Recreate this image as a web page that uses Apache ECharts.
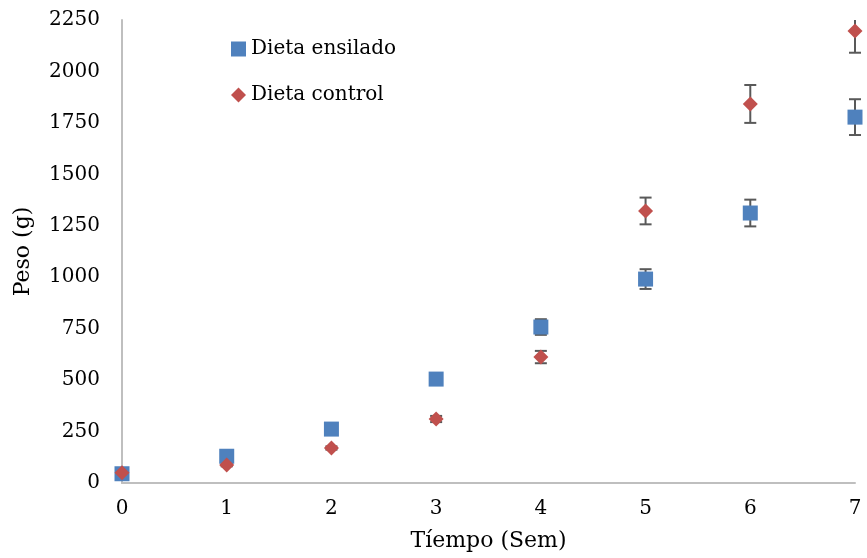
<!DOCTYPE html>
<html>
<head>
<meta charset="utf-8">
<script src="https://cdn.jsdelivr.net/npm/echarts@6/dist/echarts.min.js"></script>
<style>
  html, body { margin: 0; padding: 0; background: #fff; }
  #main { width: 867px; height: 558px; }
</style>
</head>
<body>
<div id="main"></div>
<script>
// semanas
var semanas = [0, 1, 2, 3, 4, 5, 6, 7];
// Dieta ensilado (g) y su error
var ensilado = [45, 130, 262, 505, 758, 991, 1312, 1778];
var ensiladoErr = [5, 8, 10, 10, 38, 48, 65, 87];
// Dieta control (g) y su error
var control = [50, 87, 170, 311, 612, 1322, 1842, 2196];
var controlErr = [4, 6, 8, 15, 30, 65, 92, 105];
var yTicks = [0, 250, 500, 750, 1000, 1250, 1500, 1750, 2000, 2250];
var yMax = 2250;

var serif = 'DejaVu Serif';

function puntos(vals) {
  return semanas.map(function (s, i) { return [s, vals[i]]; });
}
function barras(vals, errs) {
  return semanas.map(function (s, i) { return [s, vals[i] - errs[i], vals[i] + errs[i]]; });
}

// barra de error con tapas (se corta en el borde superior del área)
function renderError(params, api) {
  var x = api.value(0);
  var top = api.value(2);
  var cortada = top > yMax;
  var lo = api.coord([x, api.value(1)]);
  var hi = api.coord([x, cortada ? yMax : top]);
  var w = 6;
  var st = { stroke: '#595959', lineWidth: 2 };
  var hijos = [
    { type: 'line', shape: { x1: lo[0], y1: lo[1], x2: hi[0], y2: hi[1] }, style: st },
    { type: 'line', shape: { x1: lo[0] - w, y1: lo[1], x2: lo[0] + w, y2: lo[1] }, style: st }
  ];
  if (!cortada) {
    hijos.push({ type: 'line', shape: { x1: hi[0] - w, y1: hi[1], x2: hi[0] + w, y2: hi[1] }, style: st });
  }
  return { type: 'group', children: hijos };
}

var myChart = echarts.init(document.getElementById('main'));
myChart.setOption({
  animation: false,
  grid: { left: 122, right: 12, top: 20, bottom: 75 },
  legend: {
    orient: 'vertical',
    left: 226,
    top: 34,
    itemGap: 26,
    itemWidth: 15,
    itemHeight: 15,
    data: ['Dieta ensilado', 'Dieta control'],
    textStyle: { fontFamily: serif, fontSize: 20, color: '#000' }
  },
  xAxis: {
    type: 'value',
    min: 0,
    max: 7,
    interval: 1,
    name: 'Tíempo (Sem)',
    nameLocation: 'middle',
    nameGap: 47,
    nameTextStyle: { fontFamily: serif, fontSize: 22, color: '#000' },
    axisLine: { show: true, lineStyle: { color: '#BFBFBF', width: 2 } },
    axisTick: { show: false },
    splitLine: { show: false },
    axisLabel: { fontFamily: serif, fontSize: 20, color: '#000', margin: 16 }
  },
  yAxis: {
    type: 'value',
    min: 0,
    max: yMax,
    interval: 250,
    name: 'Peso (g)',
    nameLocation: 'middle',
    nameGap: 88,
    nameTextStyle: { fontFamily: serif, fontSize: 22, color: '#000' },
    axisLine: { show: true, lineStyle: { color: '#BFBFBF', width: 2 } },
    axisTick: { show: false },
    splitLine: { show: false },
    axisLabel: {
      fontFamily: serif, fontSize: 20, color: '#000', margin: 22,
      formatter: function (v) { return yTicks.indexOf(v) >= 0 ? String(v) : ''; }
    }
  },
  series: [
    {
      name: 'err ensilado',
      type: 'custom',
      renderItem: renderError,
      data: barras(ensilado, ensiladoErr),
      encode: { x: 0, y: [1, 2] },
      clip: false,
      z: 1
    },
    {
      name: 'err control',
      type: 'custom',
      renderItem: renderError,
      data: barras(control, controlErr),
      encode: { x: 0, y: [1, 2] },
      clip: false,
      z: 1
    },
    {
      name: 'Dieta ensilado',
      type: 'scatter',
      symbol: 'rect',
      symbolSize: 15,
      clip: false,
      itemStyle: { color: '#4F81BD', opacity: 1 },
      data: puntos(ensilado),
      z: 3
    },
    {
      name: 'Dieta control',
      type: 'scatter',
      symbol: 'diamond',
      symbolSize: 15,
      clip: false,
      itemStyle: { color: '#C0504D', opacity: 1 },
      data: puntos(control),
      z: 4
    }
  ]
});
</script>
</body>
</html>
